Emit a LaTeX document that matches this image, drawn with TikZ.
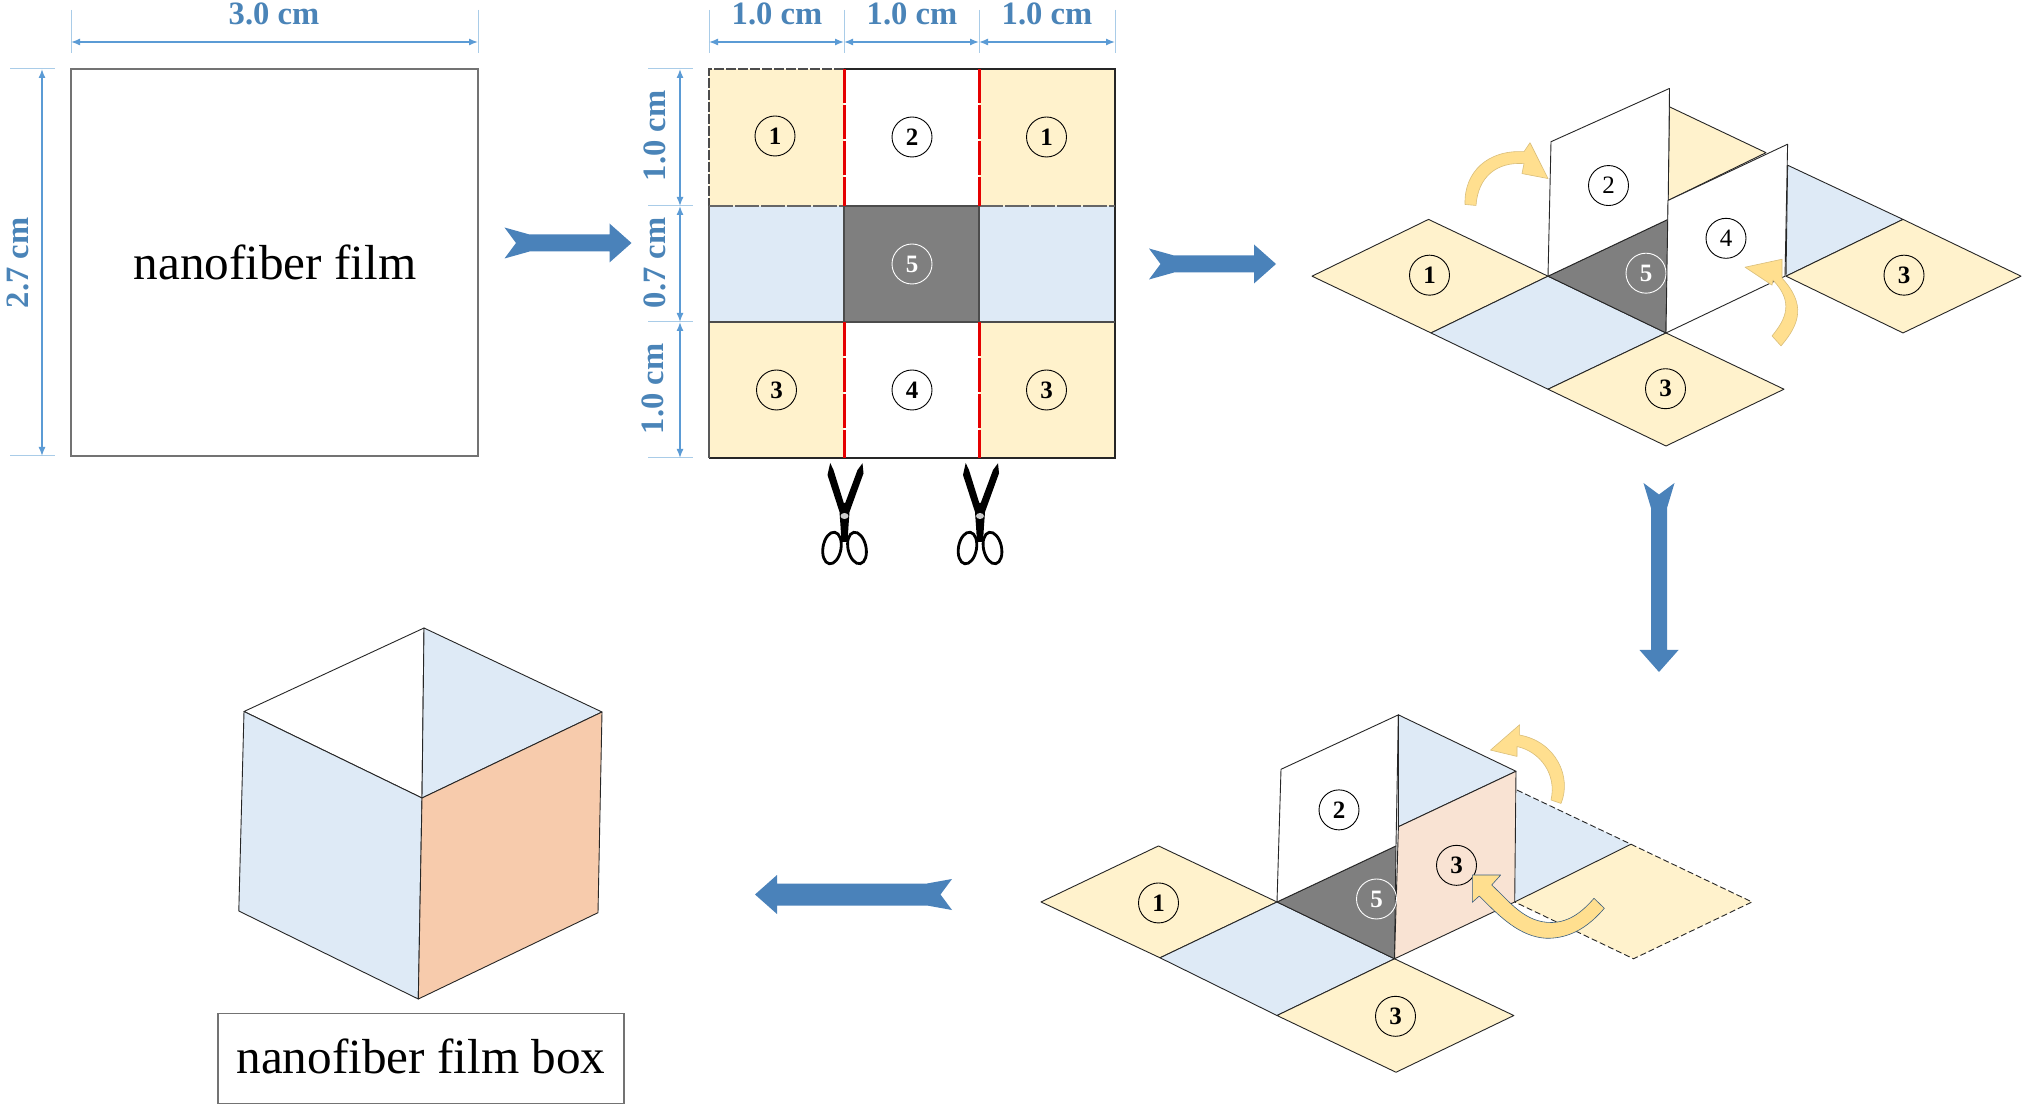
\documentclass[tikz,border=0pt]{standalone}
\usepackage{fontspec}
\setmainfont{Liberation Serif}
\usetikzlibrary{arrows.meta}
\definecolor{dimblue}{HTML}{5B9BD5}
\definecolor{extblue}{HTML}{A9CCE8}
\definecolor{dimtext}{HTML}{4A84B8}
\definecolor{arrowblue}{HTML}{4A82BA}
\definecolor{payel}{HTML}{FFF2CC}
\definecolor{pablue}{HTML}{DEEAF6}
\definecolor{darkc}{HTML}{7F7F7F}
\definecolor{peachl}{HTML}{F9E3D3}
\definecolor{peachd}{HTML}{F7CBAC}
\definecolor{curvey}{HTML}{FFDF8F}
\tikzset{
  x=0.5pt,y=-0.5pt,
  dimline/.style={draw=dimblue,line width=0.7pt,{Latex[length=4.5pt,width=3.5pt]}-{Latex[length=4.5pt,width=3.5pt]}},
  extline/.style={draw=extblue,line width=0.5pt},
  dimlabel/.style={text=dimtext,font=\fontsize{16.3}{18}\selectfont\bfseries,inner sep=0pt},
  bigtext/.style={text=black,font=\fontsize{24.6}{28}\selectfont,inner sep=0pt},
  film/.style={draw=black!55,line width=0.75pt},
  facet/.style={draw=black!85,line width=0.45pt,line join=round},
  fold/.style={draw=black!85,line width=0.45pt,dash pattern=on 3pt off 1.5pt},
  cut/.style={draw=red!90!black,line width=1.5pt,dash pattern=on 17pt off 1pt},
  num/.style={circle,draw=black,line width=0.45pt,minimum size=20pt,inner sep=0pt,font=\fontsize{12.5}{14}\selectfont\bfseries},
  numw/.style={num,draw=white,text=white},
  numl/.style={num,font=\fontsize{12.5}{14}\selectfont},
  bigarrow/.style={fill=arrowblue,draw=none},
  curved/.style={fill=curvey,draw=curvey!85!black,line width=0.3pt,line join=round},
}
% name, tail point, angle, length, shaft half width
\newcommand{\blockarrow}[5]{%
  \begin{scope}[shift={(#2)},rotate=#3]
    \coordinate (#1) at (0,0);
    \fill[bigarrow] (0,-15.5) -- (25,-#5) -- (#4-22,-#5) -- (#4-22,-19.5) -- (#4,0)
      -- (#4-22,19.5) -- (#4-22,#5) -- (25,#5) -- (0,15.5) -- (11.5,0) -- cycle;
  \end{scope}}
% name, pivot point
\newcommand{\shears}[2]{%
  \begin{scope}[shift={(#2)}]
    \coordinate (#1) at (0,0);
    \fill[black] (-14.3,-53) -- (-17,-41) -- (-5,-4) -- (-4,10) -- (-3,26) -- (3,26) -- (4,10) -- (5,-4)
      -- (19,-42.7) -- (18,-52.7) -- (13,-46) -- (0.7,-13) -- (-0.7,-13) -- (-11,-46) -- cycle;
    \draw[black,line width=1.4pt,rotate around={-10:(-12.5,32)}] (-12.5,32) ellipse [x radius=9,y radius=16];
    \draw[black,line width=1.4pt,rotate around={12:(12.5,32)}] (12.5,32) ellipse [x radius=9,y radius=16];
    \fill[black!20] (0,0) ellipse [x radius=4,y radius=3];
  \end{scope}}
\begin{document}
\begin{tikzpicture}
\useasboundingbox (0,0) rectangle (2031,1112);
\fill[white] (0,0) rectangle (2031,1112);

% ---------- panel 1: the film
\coordinate (fa) at (71,69); \coordinate (fb) at (478,69);
\coordinate (fc) at (478,456); \coordinate (fd) at (71,456);
\draw[film] (fa) rectangle (fc);
\node[bigtext] (filmtext) at (275,262) {nanofiber film};
\coordinate (ta) at (71,42); \coordinate (tb) at (478,42);
\coordinate (la) at (42,69); \coordinate (lb) at (42,456);
\draw[extline] (71,10) -- (71,53); \draw[extline] (478,10) -- (478,53);
\draw[extline] (10,69) -- (55,69); \draw[extline] (10,456) -- (55,456);
\draw[dimline] (ta) -- (tb);
\draw[dimline] (la) -- (lb);
\node[dimlabel] (l30) at (274,14) {3.0 cm};
\node[dimlabel,rotate=90] (l27) at (18,263) {2.7 cm};

\blockarrow{a1}{504.5,243}{0}{127}{8.5}

% ---------- panel 2: cutting plan
\fill[payel] (709,69) rectangle (844,206);
\fill[payel] (979,69) rectangle (1115,206);
\fill[payel] (709,322) rectangle (844,458);
\fill[payel] (979,322) rectangle (1115,458);
\fill[pablue] (709,206) rectangle (844,322);
\fill[pablue] (979,206) rectangle (1115,322);
\fill[darkc] (844,206) rectangle (979,322);
\draw[draw=black!85,line width=1pt] (844,69) -- (1115,69) -- (1115,458) -- (709,458);
\draw[draw=black!70,line width=0.75pt,dash pattern=on 5pt off 1pt] (844,69) -- (709,69) -- (709,206);
\draw[draw=black!65,line width=0.75pt] (709,206) -- (709,458);
\draw[draw=black!60,line width=0.9pt,dash pattern=on 12pt off 1pt] (709,206) -- (844,206);
\draw[draw=black!60,line width=0.9pt,dash pattern=on 12pt off 1pt] (979,206) -- (1115,206);
\draw[draw=black!70,line width=0.9pt] (709,322) -- (844,322);
\draw[draw=black!70,line width=0.9pt] (979,322) -- (1115,322);
\draw[draw=black!70,line width=0.6pt] (844,206) rectangle (979,322);
\draw[cut] (844,69) -- (844,206); \draw[cut] (979,69) -- (979,206);
\draw[cut] (844,322) -- (844,458); \draw[cut] (979,322) -- (979,458);
\node[num] (p1a) at (775,136) {1};
\node[num] (p2) at (912,137) {2};
\node[num] (p1b) at (1046.5,137) {1};
\node[numw] (p5) at (912,264) {5};
\node[num] (p3a) at (776.5,390) {3};
\node[num] (p4) at (912,390) {4};
\node[num] (p3b) at (1046.5,390) {3};
\foreach \xx in {709,844,979,1115} \draw[extline] (\xx,10) -- (\xx,53);
\foreach \yy in {69,206,322,458} \draw[extline] (648,\yy) -- (693,\yy);
\coordinate (t0) at (709,42); \coordinate (t1) at (844,42);
\coordinate (t2) at (979,42); \coordinate (t3) at (1115,42);
\coordinate (s0) at (680,69); \coordinate (s1) at (680,206);
\coordinate (s2) at (680,322); \coordinate (s3) at (680,458);
\draw[dimline] (t0) -- (t1); \draw[dimline] (t1) -- (t2); \draw[dimline] (t2) -- (t3);
\draw[dimline] (s0) -- (s1); \draw[dimline] (s1) -- (s2); \draw[dimline] (s2) -- (s3);
\node[dimlabel] (d1) at (777,14) {1.0 cm};
\node[dimlabel] (d2) at (912,14) {1.0 cm};
\node[dimlabel] (d3) at (1047,14) {1.0 cm};
\node[dimlabel,rotate=90] (d4) at (655,136) {1.0 cm};
\node[dimlabel,rotate=90] (d5) at (655,263) {0.7 cm};
\node[dimlabel,rotate=90] (d6) at (653,389) {1.0 cm};
\shears{sc1}{844.5,516}
\shears{sc2}{980,516}

\blockarrow{a2}{1149,264}{0}{127}{8.5}

% ---------- panel 3: first fold
\begin{scope}[shift={(0,70)},yscale=0.996,shift={(0,-70)}]
\path[facet,fill=payel] (1312,277) -- (1428.5,220) -- (1548,277) -- (1431,334) -- cycle;
\path[facet,fill=pablue] (1431,334) -- (1548,277) -- (1666,334) -- (1548,390.5) -- cycle;
\path[facet,fill=payel] (1548,390.5) -- (1666,334) -- (1784,390.5) -- (1666,447.5) -- cycle;
\path[facet,fill=payel] (1669.5,107) -- (1766,153) -- (1668,201) -- cycle;
\path[facet,fill=pablue] (1787.6,165.6) -- (1903,220) -- (1786,277) -- cycle;
\path[facet,fill=payel] (1786,277) -- (1903,220) -- (2021,277) -- (1903,334) -- cycle;
\path[facet,fill=darkc] (1548,277) -- (1668,220) -- (1666,334) -- cycle;
\path[facet,fill=white] (1548,277) -- (1551,142) -- (1669.5,88.5) -- (1668,220) -- cycle;
\path[facet,fill=white] (1666,334) -- (1668,201) -- (1787.6,144.5) -- (1785,277) -- cycle;
\node[num] (q1) at (1429.5,276) {1};
\node[numl] (q2) at (1608.5,186) {2};
\node[numw] (q5) at (1646,274) {5};
\node[numl] (q4) at (1726,239) {4};
\node[num] (q3r) at (1904,276) {3};
\node[num] (q3b) at (1665.5,390) {3};
\path[curved] (1465,205) .. controls (1464,172) and (1488,150) .. (1524,152)
  -- (1530,143) -- (1548,179) -- (1522,174) -- (1524,164)
  .. controls (1497,162) and (1478,177) .. (1476,206) -- cycle;
\path[curved] (1781,347) .. controls (1800,325) and (1806,305) .. (1782,279)
  -- (1782,260) -- (1745,268) -- (1772,286) -- (1773,281)
  .. controls (1794,303) and (1786,320) .. (1772,337) -- cycle;
\end{scope}

\blockarrow{a3}{1659,483}{-90}{189}{8}

% ---------- panel 4: second fold
\begin{scope}[shift={(0,700)},yscale=0.99,shift={(0,-700)}]
\path[facet,fill=payel] (1041,904) -- (1158.5,847.4) -- (1277,904) -- (1160,960.4) -- cycle;
\path[facet,fill=pablue] (1160,960.4) -- (1277,904) -- (1394.5,961.4) -- (1277,1018.7) -- cycle;
\path[facet,fill=payel] (1277,1018.7) -- (1394.5,961.4) -- (1513.8,1018.7) -- (1396,1076) -- cycle;
\path[facet,fill=darkc] (1277,904) -- (1396,847.4) -- (1394.5,961.4) -- cycle;
\path[facet,fill=white] (1277,904) -- (1281,770) -- (1398.4,715) -- (1396,847.4) -- cycle;
\path[facet,fill=pablue] (1398.4,715) -- (1516,772) -- (1398.4,828) -- cycle;
\path[fill=pablue] (1517,791) -- (1631,845.7) -- (1514.7,904) -- cycle;
\path[fill=payel] (1514.7,904) -- (1631,845.7) -- (1752,904) -- (1633.5,961.4) -- cycle;
\draw[fold] (1517,791) -- (1631,845.7) -- (1752,904) -- (1633.5,961.4) -- (1514.7,904);
\draw[facet] (1514.7,904) -- (1631,845.7);
\path[facet,fill=peachl] (1398.4,828) -- (1516,772) -- (1514.7,904) -- (1394.5,961.4) -- cycle;
\node[num] (r1) at (1158.5,905) {1};
\node[num] (r2) at (1339,811) {2};
\node[numw] (r5) at (1376.5,901) {5};
\node[num] (r3a) at (1456.5,867) {3};
\node[num] (r3b) at (1395.5,1019.5) {3};
\path[curved] (1561,804.5) .. controls (1572,778) and (1556,742) .. (1519.6,735.4)
  -- (1519.6,725) -- (1490.5,750.6) -- (1517,757) -- (1517,747)
  .. controls (1540,752) and (1557,775) .. (1551,801) -- cycle;
\end{scope}
\path[curved,draw=black!40!dimblue] (1491.7,885) .. controls (1510,902) and (1525,923) .. (1552,922.5)
  .. controls (1570,922) and (1583,911) .. (1594,898.3)
  -- (1604.3,908.3) .. controls (1590,925) and (1572,938.5) .. (1546.7,938.3)
  .. controls (1520,937) and (1500,917) .. (1479.3,896)
  -- (1472.3,902.3) -- (1472.3,875) -- (1500.7,875) -- cycle;

\blockarrow{a4}{952,894.5}{180}{197}{11}

% ---------- panel 5: finished box
\path[facet,fill=white] (424,628) -- (244,711.5) -- (422,798) -- cycle;
\path[facet,fill=pablue] (424,628) -- (602,712) -- (422,798) -- cycle;
\path[facet,fill=pablue] (244,711.5) -- (422,798) -- (418.3,999) -- (238.8,911) -- cycle;
\path[facet,fill=peachd] (422,798) -- (602,712) -- (598,912.7) -- (418.3,999) -- cycle;
\node[draw=black!55,line width=0.7pt,minimum width=203pt,minimum height=44.8pt,inner sep=0pt,bigtext,text depth=2pt] (boxlabel) at (421,1058.4) {nanofiber film box};
\end{tikzpicture}
\end{document}
